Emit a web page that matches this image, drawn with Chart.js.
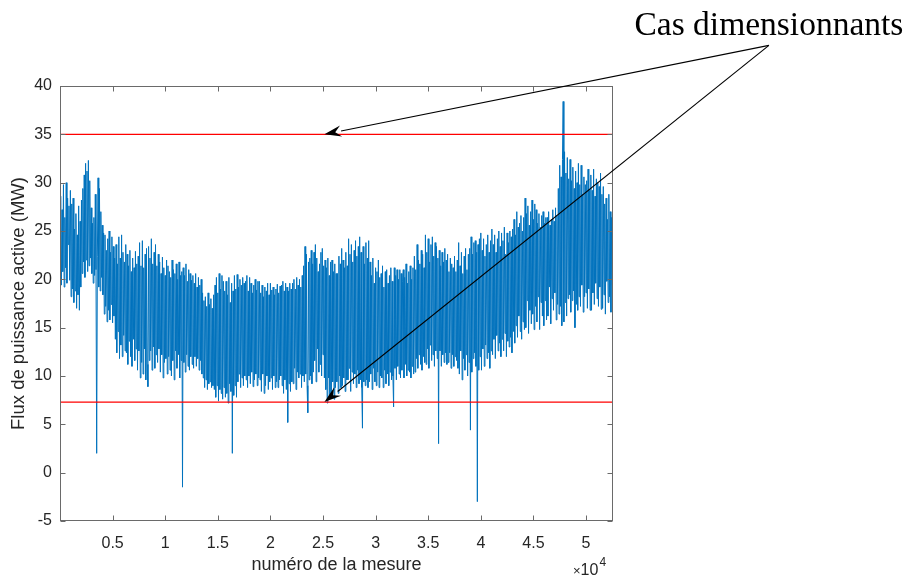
<!DOCTYPE html>
<html>
<head>
<meta charset="utf-8">
<script src="https://cdn.jsdelivr.net/npm/chart.js@4.4.1/dist/chart.umd.min.js"></script>
<style>
  html, body { margin: 0; padding: 0; background: #fff; }
  #wrap { width: 909px; height: 576px; }
</style>
</head>
<body>
<div id="wrap"><canvas id="chart" width="909" height="576"></canvas></div>
<script>
// flux de puissance active (MW)
const nbMesures = 52560;
const puissance = [
  22.4, 28.6, 19.4, 27.2, 20.8, 29.8, 19.2, 26.4,
  21.2, 30.0, 19.6, 28.4, 23.6, 27.6, 19.9, 29.2,
  18.2, 27.8, 19.0, 28.4, 17.6, 25.2, 18.8, 26.8,
  17.0, 24.6, 18.4, 27.6, 16.8, 26.0, 19.2, 28.2,
  20.6, 29.4, 21.8, 30.8, 20.2, 32.0, 22.0, 31.2,
  20.8, 32.3, 21.4, 30.2, 22.2, 27.4, 20.6, 25.8,
  19.6, 26.4, 20.4, 28.8, 21.0, 2.0, 22.4, 30.5,
  19.2, 29.4, 18.8, 27.0, 20.2, 25.6, 18.4, 24.8,
  16.4, 24.6, 17.2, 23.0, 15.6, 24.2, 16.8, 25.0,
  15.8, 22.8, 17.4, 24.4, 15.5, 23.4, 16.2, 22.2,
  13.8, 23.6, 12.4, 21.6, 14.6, 24.4, 11.8, 22.2,
  13.2, 24.6, 12.0, 22.8, 14.2, 21.8, 12.6, 23.6,
  12.4, 22.6, 11.2, 21.4, 13.6, 23.0, 12.0, 20.8,
  11.0, 22.2, 13.8, 21.2, 11.6, 22.9, 12.8, 21.6,
  10.6, 22.4, 12.6, 23.8, 9.8, 21.4, 11.4, 24.0,
  10.2, 21.2, 12.8, 22.6, 9.6, 23.2, 11.2, 8.9,
  23.4, 11.6, 22.2, 12.6, 24.2, 10.6, 21.6, 13.0,
  22.8, 10.8, 23.6, 12.2, 21.4, 11.4, 22.6, 12.8,
  21.8, 10.4, 20.6, 12.2, 22.3, 9.8, 21.2, 11.4,
  20.4, 11.8, 22.0, 10.2, 21.4, 12.0, 20.8, 10.6,
  20.2, 10.0, 22.0, 11.6, 21.0, 9.6, 20.6, 12.6,
  21.6, 10.8, 20.0, 12.2, 21.8, 9.8, 20.4, 11.6,
  20.8, -1.5, 21.2, 11.4, 20.4, 10.4, 21.6, 12.2,
  19.8, 11.0, 21.0, 10.6, 20.6, 12.0, 19.9, 11.2,
  20.4, 10.8, 19.6, 12.0, 20.6, 11.0, 19.2, 11.8,
  20.2, 10.6, 19.4, 11.6, 20.0, 10.2, 18.6, 9.8,
  17.8, 8.8, 18.2, 9.6, 17.2, 8.6, 18.6, 9.2,
  17.4, 9.4, 18.0, 8.8, 17.0, 9.0, 18.4, 8.6,
  19.4, 7.8, 20.2, 9.0, 18.6, 7.4, 20.6, 8.6,
  19.0, 8.2, 20.4, 7.6, 19.8, 8.8, 18.8, 7.8,
  19.8, 8.2, 18.4, 7.2, 20.2, 9.2, 17.6, 8.4,
  19.6, 2.0, 18.8, 8.0, 20.4, 9.0, 19.0, 7.8,
  20.5, 9.4, 19.2, 10.2, 20.0, 8.8, 19.4, 9.8,
  20.2, 9.0, 19.6, 10.0, 19.8, 9.6, 20.4, 8.8,
  18.8, 10.0, 20.2, 9.2, 19.6, 10.4, 18.6, 8.9,
  19.4, 9.6, 20.0, 10.2, 18.9, 9.0, 19.8, 9.8,
  19.8, 9.6, 18.6, 8.4, 19.4, 10.2, 18.2, 8.2,
  19.2, 9.0, 18.8, 10.0, 19.6, 8.6, 18.4, 9.4,
  19.6, 9.8, 18.9, 8.6, 19.2, 10.0, 18.4, 8.8,
  19.0, 9.4, 19.5, 8.8, 18.6, 9.6, 19.3, 10.0,
  19.4, 9.0, 19.8, 8.2, 18.8, 9.6, 19.6, 8.6,
  19.2, 5.2, 18.8, 9.2, 19.6, 8.4, 19.0, 9.4,
  19.6, 9.2, 20.0, 10.8, 19.0, 8.6, 20.2, 10.4,
  19.4, 9.8, 20.0, 10.2, 19.2, 8.8, 20.4, 10.0,
  21.4, 9.4, 23.4, 10.2, 22.6, 9.0, 6.2, 21.8,
  9.6, 22.2, 10.0, 23.0, 9.2, 21.6, 10.4, 22.8,
  11.6, 23.6, 9.4, 22.2, 12.8, 20.8, 10.4, 21.6,
  11.2, 22.8, 10.0, 23.2, 12.2, 21.4, 9.8, 22.0,
  8.6, 21.2, 7.2, 22.2, 9.8, 20.4, 7.8, 21.8,
  8.2, 22.0, 9.4, 20.8, 7.6, 21.6, 8.8, 20.6,
  9.4, 20.6, 8.2, 22.4, 10.0, 21.6, 8.8, 23.2,
  9.0, 22.0, 9.8, 21.2, 8.4, 22.8, 9.6, 21.4,
  9.6, 24.2, 10.8, 22.6, 8.4, 23.6, 10.4, 21.8,
  9.2, 23.0, 10.2, 24.0, 8.8, 22.4, 10.6, 23.4,
  9.2, 24.4, 9.6, 22.8, 8.8, 4.6, 23.4, 9.4,
  21.6, 9.0, 23.8, 9.6, 22.2, 8.8, 24.0, 9.4,
  21.8, 10.2, 20.4, 8.6, 22.2, 10.8, 19.6, 9.4,
  21.2, 9.0, 20.8, 10.4, 22.0, 8.8, 20.2, 10.0,
  20.6, 9.8, 21.4, 8.8, 19.2, 10.6, 20.8, 9.2,
  21.0, 10.2, 19.6, 9.0, 20.4, 10.4, 21.2, 9.6,
  19.8, 10.0, 6.8, 21.2, 10.8, 20.4, 9.6, 21.0,
  11.0, 20.0, 10.2, 21.0, 9.8, 20.6, 10.6, 19.8,
  21.0, 9.8, 20.2, 11.2, 21.6, 10.0, 19.6, 10.6,
  20.8, 10.4, 21.4, 9.8, 20.0, 11.0, 21.2, 10.2,
  22.4, 10.4, 21.0, 11.8, 23.6, 10.8, 22.0, 12.2,
  21.6, 11.2, 23.0, 10.6, 22.6, 12.0, 21.2, 11.4,
  24.6, 11.2, 22.8, 12.8, 24.2, 10.8, 21.8, 13.2,
  23.6, 11.6, 24.4, 12.2, 22.4, 11.0, 23.8, 12.6,
  23.4, 11.8, 22.2, 3.0, 23.0, 12.6, 21.4, 11.0,
  22.8, 12.2, 21.8, 11.4, 23.2, 12.4, 22.0, 11.2,
  22.6, 11.4, 20.8, 12.4, 22.2, 10.8, 21.6, 12.2,
  21.2, 11.0, 22.4, 12.0, 20.8, 11.6, 22.0, 10.8,
  23.8, 10.2, 21.4, 12.6, 22.8, 9.6, 20.6, 11.8,
  22.4, 10.6, 23.2, 12.2, 21.0, 10.0, 22.6, 11.4,
  23.2, 4.4, 24.4, 10.4, 22.6, 11.8, 23.8, 12.4,
  24.0, 11.0, 22.8, -3.0, 23.6, 10.6, 24.2, 12.0,
  24.8, 10.6, 23.0, 12.8, 24.2, 11.0, 22.4, 13.2,
  23.6, 11.8, 24.6, 12.4, 22.8, 10.8, 24.0, 12.6,
  25.2, 12.2, 23.6, 13.8, 24.6, 11.8, 22.8, 14.2,
  24.2, 12.6, 25.0, 13.4, 23.4, 12.0, 24.8, 13.8,
  24.0, 12.6, 25.4, 14.4, 22.6, 12.0, 24.8, 13.6,
  23.8, 13.0, 25.0, 14.0, 24.4, 12.4, 25.2, 14.6,
  26.2, 13.4, 24.6, 15.2, 27.0, 14.0, 25.4, 16.2,
  25.8, 14.6, 26.6, 13.8, 25.0, 15.6, 26.4, 14.8,
  28.4, 15.0, 26.8, 17.8, 27.6, 14.4, 25.6, 16.8,
  27.0, 15.4, 28.2, 16.4, 26.2, 14.8, 27.8, 17.2,
  27.2, 15.6, 25.8, 18.2, 26.8, 14.8, 25.4, 17.6,
  26.6, 16.2, 27.0, 15.2, 25.8, 17.8, 26.4, 15.8,
  26.4, 16.2, 27.0, 19.2, 25.6, 15.4, 26.2, 18.0,
  27.2, 16.8, 26.0, 18.6, 27.4, 15.8, 26.6, 17.4,
  29.4, 16.4, 31.8, 17.2, 30.6, 15.2, 32.4, 38.4,
  15.6, 33.2, 17.6, 31.0, 16.2, 32.6, 18.0, 30.4,
  18.4, 32.4, 16.6, 30.2, 17.8, 31.6, 18.8, 29.4,
  15.0, 31.2, 17.4, 30.0, 16.8, 32.0, 18.2, 29.8,
  17.2, 31.8, 19.4, 28.8, 16.6, 30.6, 18.2, 29.8,
  18.6, 30.2, 17.0, 31.4, 19.0, 29.2, 16.8, 30.8,
  16.8, 29.2, 18.6, 31.4, 17.4, 28.6, 19.6, 30.4,
  18.0, 30.0, 17.2, 29.6, 19.2, 31.0, 16.9, 28.8,
  17.0, 29.6, 18.4, 27.8, 16.4, 28.4, 19.8, 26.2,
  17.6, 28.8, 18.2, 27.0, 16.6, 26.4, 19.4, 22.0
];

// cas dimensionnants
const seuilHaut = 35;
const seuilBas = 7.3;

const xTicks = [5000, 10000, 15000, 20000, 25000, 30000, 35000, 40000, 45000, 50000];
const yTicks = [-5, 0, 5, 10, 15, 20, 25, 30, 35, 40];

// annotation (coordonnées en unités des axes)
const texteAnnotation = 'Cas dimensionnants';
const posTexte = [67380, 45.3];
const departFleche = [67380, 44.2];
const ciblesFleche = [[25130, seuilHaut], [25130, seuilBas]];

const pas = nbMesures / (puissance.length - 1);
const fontSans = '"Liberation Sans", Arial, Helvetica, sans-serif';
const gris = '#262626';

const cadre = {
  id: 'cadre',
  afterDraw(chart) {
    const { ctx, chartArea: a, scales: { x, y } } = chart;
    ctx.save();
    // boite + graduations intérieures
    ctx.strokeStyle = '#6a6a6a';
    ctx.lineWidth = 1;
    const l = Math.round(a.left) + 0.5, r = Math.round(a.right) - 0.5;
    const t = Math.round(a.top) + 0.5, b = Math.round(a.bottom) - 0.5;
    ctx.strokeRect(l, t, r - l, b - t);
    ctx.beginPath();
    xTicks.forEach(v => {
      const px = Math.round(x.getPixelForValue(v)) + 0.5;
      ctx.moveTo(px, b); ctx.lineTo(px, b - 5);
      ctx.moveTo(px, t); ctx.lineTo(px, t + 5);
    });
    yTicks.forEach(v => {
      const py = Math.round(y.getPixelForValue(v)) + 0.5;
      ctx.moveTo(l, py); ctx.lineTo(l + 5, py);
      ctx.moveTo(r, py); ctx.lineTo(r - 5, py);
    });
    ctx.stroke();

    // x10^4
    ctx.fillStyle = gris;
    ctx.textBaseline = 'alphabetic';
    ctx.textAlign = 'left';
    ctx.font = '13px ' + fontSans;
    ctx.fillText('\u00d7', 573, 575);
    let w = ctx.measureText('\u00d7').width;
    ctx.font = '16px ' + fontSans;
    ctx.fillText('10', 573 + w, 575);
    w += ctx.measureText('10').width;
    ctx.font = '12px ' + fontSans;
    ctx.fillText('4', 573 + w + 1, 566);

    // flèches
    ctx.strokeStyle = '#000';
    ctx.fillStyle = '#000';
    ctx.lineWidth = 1.1;
    const x0 = x.getPixelForValue(departFleche[0]);
    const y0 = y.getPixelForValue(departFleche[1]);
    ciblesFleche.forEach(([cx, cy]) => {
      const x1 = x.getPixelForValue(cx);
      const y1 = y.getPixelForValue(cy);
      const ang = Math.atan2(y1 - y0, x1 - x0);
      const lg = 17, lr = 5.5;
      const bx = x1 - lg * Math.cos(ang), by = y1 - lg * Math.sin(ang);
      ctx.beginPath();
      ctx.moveTo(x0, y0);
      ctx.lineTo(bx, by);
      ctx.stroke();
      ctx.beginPath();
      ctx.moveTo(x1, y1);
      ctx.lineTo(bx + lr * Math.sin(ang), by - lr * Math.cos(ang));
      ctx.lineTo(bx + 0.35 * lg * Math.cos(ang), by + 0.35 * lg * Math.sin(ang));
      ctx.lineTo(bx - lr * Math.sin(ang), by + lr * Math.cos(ang));
      ctx.closePath();
      ctx.fill();
    });

    ctx.font = '33.5px "Liberation Serif", "Times New Roman", serif';
    ctx.textAlign = 'center';
    ctx.fillText(texteAnnotation, x.getPixelForValue(posTexte[0]), y.getPixelForValue(posTexte[1]));
    ctx.restore();
  }
};

new Chart(document.getElementById('chart').getContext('2d'), {
  type: 'line',
  data: {
    datasets: [
      {
        data: puissance.map((v, i) => ({ x: i * pas, y: v })),
        borderColor: '#0072BD',
        borderWidth: 1,
        pointRadius: 0,
        tension: 0,
        order: 2
      },
      {
        data: [{ x: 0, y: seuilHaut }, { x: nbMesures, y: seuilHaut }],
        borderColor: '#FF0000',
        borderWidth: 1.3,
        pointRadius: 0,
        order: 1
      },
      {
        data: [{ x: 0, y: seuilBas }, { x: nbMesures, y: seuilBas }],
        borderColor: '#FF0000',
        borderWidth: 1.3,
        pointRadius: 0,
        order: 1
      }
    ]
  },
  options: {
    responsive: false,
    animation: false,
    events: [],
    layout: { padding: { top: 86, right: 296, left: 0, bottom: 0 } },
    plugins: { legend: { display: false }, tooltip: { enabled: false } },
    scales: {
      x: {
        type: 'linear',
        min: 0,
        max: nbMesures,
        grid: { display: false, drawTicks: false },
        border: { display: false },
        afterBuildTicks: s => { s.ticks = xTicks.map(v => ({ value: v })); },
        afterFit: s => { s.height = 55; },
        ticks: {
          autoSkip: false,
          maxRotation: 0,
          padding: 13,
          color: gris,
          font: { family: fontSans, size: 16 },
          callback: v => String(v / 10000)
        },
        title: {
          display: true,
          text: 'numéro de la mesure',
          color: gris,
          font: { family: fontSans, size: 18 },
          padding: { top: 0, bottom: 0 }
        }
      },
      y: {
        min: -5,
        max: 40,
        grid: { display: false, drawTicks: false },
        border: { display: false },
        afterBuildTicks: s => { s.ticks = yTicks.map(v => ({ value: v })); },
        afterFit: s => { s.width = 60; },
        ticks: {
          padding: 8,
          color: gris,
          font: { family: fontSans, size: 16 }
        },
        title: {
          display: true,
          text: 'Flux de puissance active (MW)',
          color: gris,
          font: { family: fontSans, size: 18.5 },
          padding: { top: 8, bottom: 0 }
        }
      }
    }
  },
  plugins: [cadre]
});
</script>
</body>
</html>
